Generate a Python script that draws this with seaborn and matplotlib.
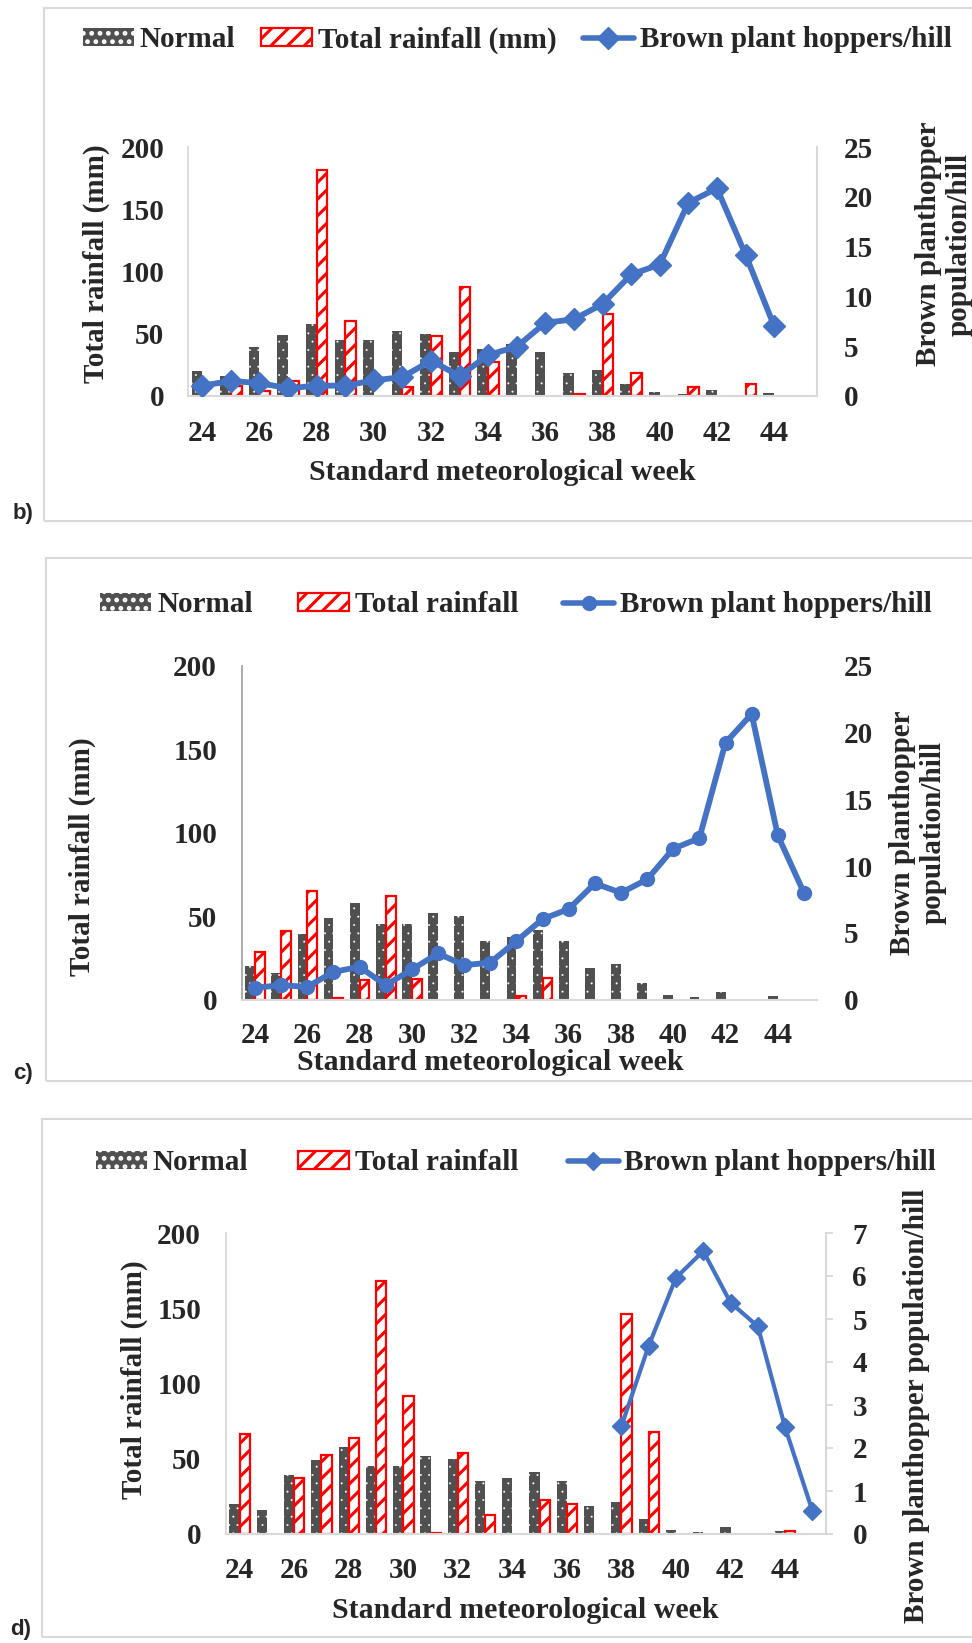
import numpy as np
import pandas as pd
import matplotlib
matplotlib.use("Agg")
import matplotlib.pyplot as plt
import matplotlib.patches as mpatches
from matplotlib.lines import Line2D
import seaborn as sns

nan = np.nan

# Standard meteorological weeks
weeks = list(range(24, 46))
week_labels = [str(w) for w in weeks]
tick_weeks = list(range(24, 45, 2))

# Normal rainfall (mm), same reference series in every panel
normal_mm = [20, 16, 39.4, 49, 57.8, 45, 45, 52, 50, 35.3, 37.5, 41.5,
             35, 18.7, 21, 9.7, 2.9, 1.4, 4.6, 0.4, 2.1, 0.4]

# Panel b
rain_b = [nan, 8.3, 4.3, 12, 181.5, 60.5, nan, 7.5, 48, 87.8, 27.3, nan,
          nan, 1.6, 65.9, 18.7, nan, 7.2, nan, 9.4, nan, nan]
bph_b = [1.04, 1.5, 1.3, 0.77, 1.04, 1.04, 1.57, 1.9, 3.55, 2.0, 4.12, 4.95,
         7.36, 7.7, 9.24, 12.2, 13.2, 19.4, 20.85, 14.2, 7.03, nan]

# Panel c
rain_c = [28.2, 41.2, 65.2, 0.6, 11.6, 62, 12.2, nan, nan, nan, 2.2, 12.6,
          nan, nan, nan, nan, nan, nan, nan, nan, nan, nan]
bph_c = [0.88, 1.07, 0.95, 2.07, 2.45, 1.07, 2.25, 3.45, 2.57, 2.77, 4.38, 6.03,
         6.78, 8.7, 8.0, 9.0, 11.3, 12.1, 19.25, 21.4, 12.3, 8.0]

# Panel d
rain_d = [66.6, nan, 37.2, 52.7, 63.7, 168, 91.4, 0.7, 53.5, 12.6, nan, 22.3,
          19.7, nan, 146, 68.1, nan, nan, nan, nan, 2.0, nan]
bph_d = [nan, nan, nan, nan, nan, nan, nan, nan, nan, nan, nan, nan,
         nan, nan, 2.51, 4.38, 5.96, 6.58, 5.38, 4.83, 2.48, 0.54]

GRAY = "#505050"
RED = "#ff0000"
BLUE = "#4472c4"
LIGHT = "#d9d9d9"

sns.set_style("white")
plt.rcParams["font.family"] = ["Liberation Serif", "DejaVu Serif"]
plt.rcParams["font.weight"] = "bold"
plt.rcParams["hatch.linewidth"] = 2.2

W, H = 972, 1643
fig = plt.figure(figsize=(W / 100, H / 100), dpi=100)
FS = 21


def fx(x):
    return x / W


def fy(y):
    return 1 - y / H


def rect(left, top, right, bottom):
    return [fx(left), fy(bottom), (right - left) / W, (bottom - top) / H]


def dotted(p):
    # dark bar with a fine white dot texture
    p.set_facecolor(GRAY)
    p.set_edgecolor("white")
    p.set_linewidth(0)
    p.set_hatch("..")
    if hasattr(p, "set_hatch_linewidth"):
        p.set_hatch_linewidth(0.2)


def striped(p):
    p.set_facecolor("white")
    p.set_edgecolor(RED)
    p.set_linewidth(1.6)
    p.set_hatch("//")


def panel(box, rain, bph, rlim, rticks, marker, ms, lw, legend_xy, rain_name,
          colspace, left_spine, right_spine_ticks, pads):
    ax = fig.add_axes(box)
    df = pd.DataFrame({
        "week": week_labels * 2,
        "series": ["Normal"] * len(weeks) + [rain_name] * len(weeks),
        "mm": normal_mm + rain,
    })
    sns.barplot(data=df, x="week", y="mm", hue="series",
                hue_order=["Normal", rain_name], order=week_labels,
                palette=[GRAY, "white"], saturation=1, width=0.75,
                errorbar=None, legend=False, ax=ax)
    for p in ax.containers[0]:
        dotted(p)
    for p in ax.containers[1]:
        striped(p)

    ax.set_ylim(0, 200)
    ax.set_yticks([0, 50, 100, 150, 200])
    ax.set_xticks([weeks.index(w) for w in tick_weeks])
    ax.set_xticklabels([str(w) for w in tick_weeks])
    ax.set_xlabel("")
    ax.set_ylabel("")
    ax.tick_params(axis="x", length=0, pad=pads[0], labelsize=FS)
    ax.tick_params(axis="y", length=0, pad=pads[1], labelsize=FS)
    for s in ["top", "right"]:
        ax.spines[s].set_visible(False)
    ax.spines["left"].set_color(left_spine)
    ax.spines["left"].set_linewidth(1.3)
    ax.spines["bottom"].set_color(LIGHT)
    ax.spines["bottom"].set_linewidth(1.5)

    ax2 = ax.twinx()
    sns.lineplot(x=np.arange(len(weeks)), y=bph, ax=ax2, color=BLUE,
                 linewidth=lw, marker=marker, markersize=ms,
                 markeredgecolor=BLUE, markeredgewidth=1)
    ax2.set_ylim(0, rlim)
    ax2.set_yticks(rticks)
    ax2.set_ylabel("")
    ax.set_xlim(-0.5, len(weeks) - 0.5)
    for s in ["top", "left", "bottom"]:
        ax2.spines[s].set_visible(False)
    if right_spine_ticks is None:
        ax2.spines["right"].set_visible(False)
        ax2.tick_params(axis="y", length=0, pad=pads[2], labelsize=FS)
    else:
        ax2.spines["right"].set_color(LIGHT)
        ax2.spines["right"].set_linewidth(1.5)
        ax2.tick_params(axis="y", length=right_spine_ticks, width=1.3,
                        color=LIGHT, direction="out", pad=pads[2], labelsize=FS)

    h_normal = mpatches.Patch()
    dotted(h_normal)
    h_rain = mpatches.Patch()
    striped(h_rain)
    handles = [
        h_normal,
        h_rain,
        Line2D([], [], color=BLUE, linewidth=4, marker=marker, markersize=ms,
               markeredgecolor=BLUE),
    ]
    labels = ["Normal", rain_name, "Brown plant hoppers/hill"]
    ax2.legend(handles, labels, loc="center",
               bbox_to_anchor=(fx(legend_xy[0]), fy(legend_xy[1])),
               bbox_transform=fig.transFigure, ncol=3, frameon=False,
               fontsize=FS, handlelength=1.75, handleheight=0.55,
               handletextpad=0.2, columnspacing=colspace, borderpad=0)
    return ax, ax2


def border(left, top, bottom):
    fig.add_artist(mpatches.Rectangle((fx(left), fy(bottom)), (1010 - left) / W,
                                      (bottom - top) / H, transform=fig.transFigure,
                                      fill=False, edgecolor=LIGHT, linewidth=1.5))


def txt(x, y, s, **kw):
    fig.text(fx(x), fy(y), s, ha="center", va="center", **kw)


# ---- panel b ----
border(44, 8, 521)
panel(rect(188, 147, 817, 396), rain_b, bph_b, 25, [0, 5, 10, 15, 20, 25],
      "D", 11, 4.2, (517, 40), "Total rainfall (mm)", 0.9, LIGHT, 0, (17.5, 17, 19))
txt(502, 473, "Standard meteorological week", fontsize=FS + 0.5)
txt(96, 264, "Total rainfall (mm)", fontsize=FS, rotation=90)
txt(944, 244, "Brown planthopper\npopulation/hill", fontsize=FS, rotation=90,
    linespacing=1.15)
txt(23, 514, "b)", fontsize=16, family=["Liberation Sans", "DejaVu Sans"])

# ---- panel c ----
border(46, 558, 1081)
panel(rect(242, 666, 817, 999.5), rain_c, bph_c, 25, [0, 5, 10, 15, 20, 25],
      "o", 10, 4.2, (516, 605), "Total rainfall", 1.55, "#a6a6a6", None, (16.5, 18, 19))
txt(490, 1062, "Standard meteorological week", fontsize=FS + 0.5)
txt(82, 857, "Total rainfall (mm)", fontsize=FS, rotation=90)
txt(918, 833, "Brown planthopper\npopulation/hill", fontsize=FS, rotation=90,
    linespacing=1.15)
txt(23, 1074, "c)", fontsize=16, family=["Liberation Sans", "DejaVu Sans"])

# ---- panel d ----
border(42, 1119, 1637)
panel(rect(226, 1233, 826, 1534), rain_d, bph_d, 7, [0, 1, 2, 3, 4, 5, 6, 7],
      "D", 9.5, 3.0, (516, 1163), "Total rainfall", 1.7, LIGHT, 5, (16.5, 18, 14))
txt(525, 1611, "Standard meteorological week", fontsize=FS + 0.5)
txt(134, 1380, "Total rainfall (mm)", fontsize=FS, rotation=90)
txt(916, 1406, "Brown planthopper population/hill", fontsize=FS, rotation=90)
txt(21, 1629, "d)", fontsize=16, family=["Liberation Sans", "DejaVu Sans"])

fig.savefig("out.png", dpi=100, facecolor="white")
